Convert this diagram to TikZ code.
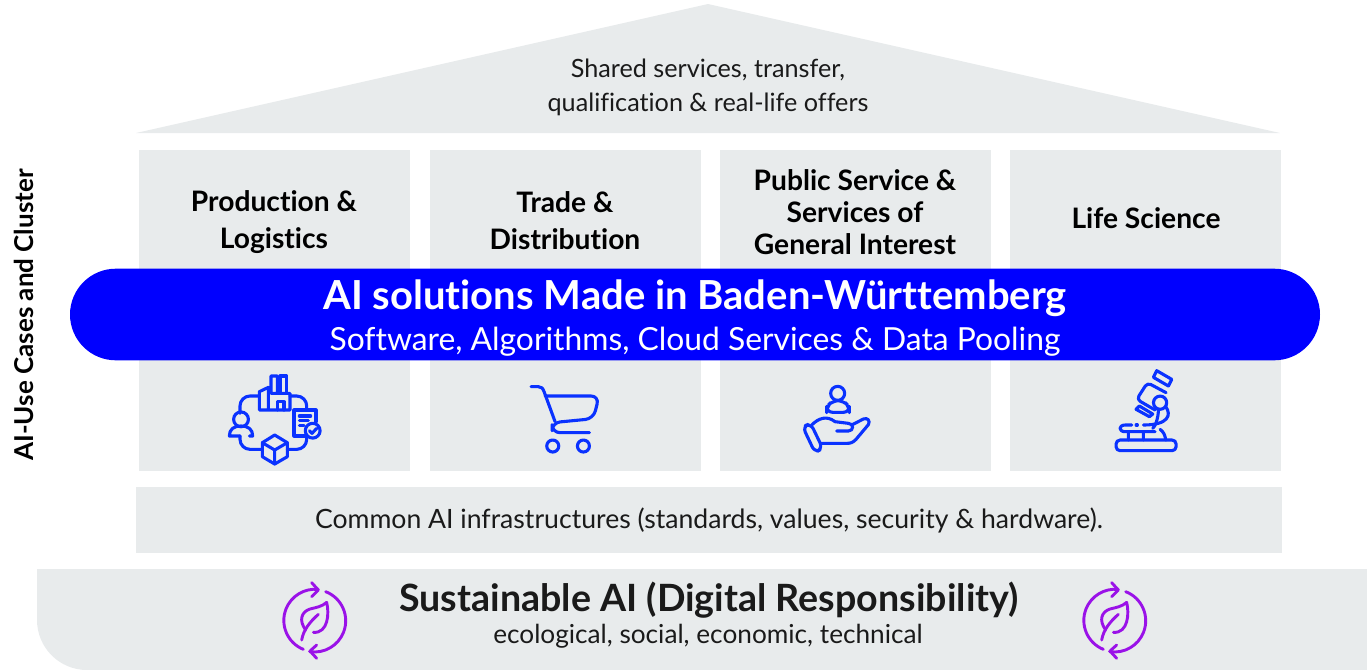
\documentclass[tikz,border=0pt]{standalone}
\usepackage{fontspec}
\setmainfont{Lato}[Ligatures=NoCommon]
\usepackage{tikz}
\usetikzlibrary{positioning}
\definecolor{panelgrey}{HTML}{E8EBEC}
\definecolor{bandblue}{HTML}{0000FF}
\definecolor{iconblue}{HTML}{0A32FF}
\definecolor{leafpurple}{HTML}{9A12E8}
\definecolor{textblack}{HTML}{1A1A1A}
\tikzset{
    panel/.style={fill=panelgrey, minimum width=135.5pt, minimum height=160.5pt, inner sep=0pt},
    head/.style={font=\fontsize{14.1}{18.4}\selectfont\bfseries, align=center, text=black, inner sep=0pt},
    plain/.style={font=\fontsize{12.6}{17}\selectfont, align=center, text=textblack, inner sep=0pt},
    iconline/.style={draw=iconblue, line width=1.55pt, line cap=round, line join=round},
    leafline/.style={draw=leafpurple, line width=1.45pt, line cap=round, line join=round}
}
\begin{document}
\begin{tikzpicture}[x=.5pt, y=-.5pt]
    \useasboundingbox (0,0) rectangle (1367,670);

    % house
    \fill [panelgrey] (136,133) -- (708,4) -- (1280,133) -- cycle;
    \node [panel] (production) at (274.5,310.5) {};
    \node [panel] (trade) at (565.5,310.5) {};
    \node [panel] (public) at (855.5,310.5) {};
    \node [panel] (life) at (1145.5,310.5) {};
    \node [fill=panelgrey, minimum width=573pt, minimum height=33pt, inner sep=0pt] (common) at (709,520) {};
    \fill [panelgrey] (37,569) -- (1367,569) -- (1367,670) -- (87,670) arc [start angle=90, end angle=180, radius=50] -- cycle;
    \node [fill=bandblue, rounded corners=22.9pt, minimum width=625pt, minimum height=45.8pt, inner sep=0pt] (band) at (695,314.5) {};

    % texts
    \node [plain] (shared) at (708,87) {Shared services, transfer,\\qualification \& real-life offers};
    \node [head] (productiontext) at (274,222) {Production \&\\Logistics};
    \node [head] (tradetext) at (565,220.5) {Trade \&\\Distribution};
    \node [head, font=\fontsize{14.1}{16}\selectfont\bfseries] (publictext) at (855,212) {Public Service \&\\Services of\\General Interest};
    \node [head] (lifetext) at (1146,218) {Life Science};
    \node [font=\fontsize{20}{24}\selectfont\bfseries, text=white, inner sep=0pt] (bandtitle) at (695,298) {AI solutions Made in Baden-Württemberg};
    \node [font=\fontsize{15.9}{20}\selectfont, text=white, inner sep=0pt] (bandsub) at (695,342) {Software, Algorithms, Cloud Services \& Data Pooling};
    \node [plain, font=\fontsize{13.3}{17}\selectfont] (commontext) at (709,520) {Common AI infrastructures (standards, values, security \& hardware).};
    \node [font=\fontsize{18.8}{22}\selectfont\bfseries, text=textblack, inner sep=0pt] (sustainable) at (709,600) {Sustainable AI (Digital Responsibility)};
    \node [plain, font=\fontsize{13.1}{16}\selectfont] (pillars) at (708,636) {ecological, social, economic, technical};
    \node [font=\fontsize{13}{15}\selectfont\bfseries, text=black, inner sep=0pt, rotate=90] (sidelabel) at (24,315) {AI-Use Cases and Cluster};

    % production icon
    \begin{scope}[shift={(200,360)}, x=.1667pt, y=-.1667pt]
        \draw [iconline, rounded corners=5pt] (120,160) -- (120,108) -- (178,108);
        \draw [iconline, rounded corners=5pt] (270,108) -- (320,108) -- (320,148);
        \draw [iconline, rounded corners=5pt] (320,228) -- (320,268) -- (262,268);
        \draw [iconline, rounded corners=5pt] (187,268) -- (120,268) -- (120,228);
        \draw [iconline] (205,150) -- (178,150) -- (178,95) -- (205,82) -- (205,150) -- (270,150) -- (270,100) -- (213,100) -- (213,48) -- (232,48) -- (232,100);
        \draw [iconline] (240,100) -- (240,48) -- (260,48) -- (260,100);
        \draw [iconline] (232,150) -- (232,125) -- (252,125) -- (252,150);
        \draw [iconline] (123,178) circle [radius=3.7pt];
        \draw [iconline] (148,228) -- (158,228) .. controls (158,208) and (145,198) .. (123,198) .. controls (101,198) and (88,208) .. (88,228) -- (120,228);
        \draw [iconline] (318,228) -- (282,228) -- (282,150) -- (348,150) -- (348,185);
        \draw [iconline] (298,168) -- (332,168) (298,182) -- (325,182) (298,197) -- (312,197);
        \draw [fill=panelgrey, iconline] (338,212) circle [radius=3.7pt];
        \draw [iconline] (328,212) -- (336,220) -- (350,205);
        \draw [iconline] (224,225) -- (262,248) -- (262,290) -- (224,312) -- (187,290) -- (187,248) -- cycle;
        \draw [iconline] (187,248) -- (224,270) -- (262,248) (224,270) -- (224,312);
    \end{scope}

    % cart icon
    \begin{scope}[shift={(200,360)}, x=.1667pt, y=-.1667pt]
        \draw [iconline] (993,80) -- (1015,80) .. controls (1025,80) and (1028,85) .. (1032,95) -- (1065,185);
        \draw [iconline, rounded corners=4pt] (1035,108) -- (1197,108) -- (1180,176) -- (1056,188) -- (1056,218) -- (1168,218);
        \draw [iconline] (1058,258) circle [radius=3pt];
        \draw [iconline] (1150,258) circle [radius=3pt];
    \end{scope}

    % hand icon
    \begin{scope}[shift={(780,360)}, x=.1667pt, y=-.1667pt]
        \draw [iconline] (173,100) circle [radius=3.5pt];
        \draw [iconline, rounded corners=3pt] (140,157) -- (208,157) -- (208,140) -- (190,122) -- (158,122) -- (140,140) -- cycle;
        \draw [iconline, rounded corners=3pt] (68,200) -- (92,190) -- (128,265) -- (105,278) -- cycle;
        \draw [iconline] (95,195) .. controls (115,175) and (140,165) .. (165,185) -- (205,190) .. controls (222,190) and (222,213) .. (205,213) -- (170,213);
        \draw [iconline] (215,195) -- (250,177) .. controls (262,172) and (272,182) .. (265,194) -- (228,238) .. controls (218,248) and (212,250) .. (200,250) -- (122,250);
    \end{scope}

    % microscope icon
    \begin{scope}[shift={(780,360)}, x=.1667pt, y=-.1667pt]
        \draw [iconline] (1130,32) -- (1175,58) -- (1165,78) -- (1120,52) -- cycle;
        \draw [iconline, rounded corners=2pt] (1125,150) -- (1070,118) -- (1102,68) -- (1158,98);
        \draw [iconline] (1078,138) -- (1118,162) -- (1108,170) -- (1068,148) -- cycle;
        \draw [iconline] (1140,128) circle [radius=3.3pt];
        \draw [iconline] (1157,140) .. controls (1175,165) and (1165,195) .. (1090,195);
        \draw [iconline] (1135,148) .. controls (1135,175) and (1125,200) .. (1118,205);
        \draw [iconline] (1055,195) -- (1035,195) .. controls (1015,195) and (1015,215) .. (1035,215) -- (1125,215);
        \draw [iconline] (1068,195) -- (1072,195);
        \draw [iconline] (1045,215) -- (1045,240) (1090,215) -- (1090,240) (1140,208) .. controls (1150,215) and (1155,225) .. (1157,240);
        \draw [iconline, rounded corners=2pt] (1008,240) rectangle (1188,272);
    \end{scope}

    % leaf icons
    \foreach \x in {260,1060}{
        \begin{scope}[shift={(\x,570)}, x=.1667pt, y=-.1667pt]
            \draw [leafline] (130,238) arc [start angle=248, end angle=84, radius=15.6pt];
            \draw [leafline] (155,38) -- (175,60) -- (155,80);
            \draw [leafline] (197,65) arc [start angle=69, end angle=-99, radius=15.6pt];
            \draw [leafline] (170,225) -- (150,243) -- (170,265);
            \draw [leafline] (125,210) .. controls (130,180) and (150,155) .. (175,133);
            \draw [leafline] (137,180) .. controls (115,150) and (125,125) .. (150,117) .. controls (170,112) and (185,110) .. (200,97) .. controls (208,130) and (205,190) .. (160,187);
        \end{scope}
    }
\end{tikzpicture}
\end{document}
